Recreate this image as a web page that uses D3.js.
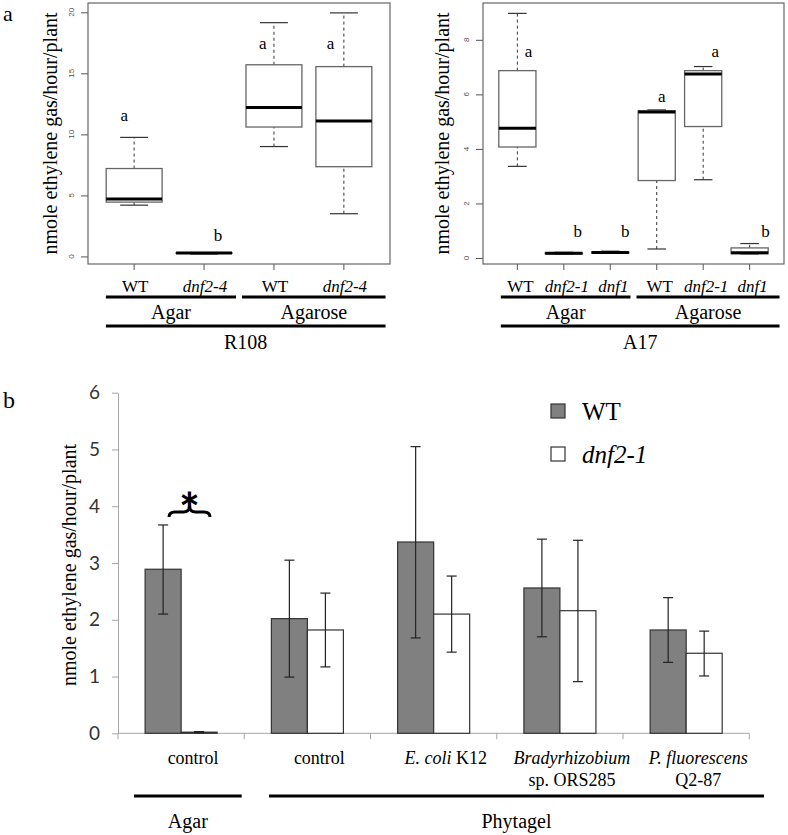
<!DOCTYPE html>
<html><head><meta charset="utf-8">
<script src="https://cdn.jsdelivr.net/npm/d3@7"></script>
<style>body{margin:0;background:#fff}svg{display:block}</style>
</head><body>
<script>
// ---------- DATA ----------
// Panel a, R108
const r108Groups = ["WT","dnf2-4","WT","dnf2-4"];
const r108Italic = [false,true,false,true];
const r108Low  = [4.2, 0.2, 9.0, 3.5];
const r108Q1   = [4.45, 0.25, 10.6, 7.35];
const r108Med  = [4.7, 0.28, 12.2, 11.1];
const r108Q3   = [7.2, 0.3, 15.7, 15.55];
const r108High = [9.75, 0.32, 19.15, 19.95];
const r108Letters = ["a","b","a","a"];
const r108LetterY = [11.1, 1.28, 17.0, 17.0];
const r108Ticks = [0,5,10,15,20];
const r108Media = ["Agar","Agarose"];

// Panel a, A17
const a17Groups = ["WT","dnf2-1","dnf1","WT","dnf2-1","dnf1"];
const a17Italic = [false,true,true,false,true,true];
const a17Low  = [3.36, 0.14, 0.17, 0.33, 2.87, 0.15];
const a17Q1   = [4.07, 0.15, 0.18, 2.84, 4.82, 0.16];
const a17Med  = [4.76, 0.17, 0.2, 5.35, 6.75, 0.19];
const a17Q3   = [6.87, 0.19, 0.22, 5.4, 6.87, 0.37];
const a17High = [8.97, 0.21, 0.25, 5.43, 7.02, 0.53];
const a17Letters = ["a","b","b","a","a","b"];
const a17LetterY = [7.37, 0.78, 0.78, 5.72, 7.37, 0.78];
const a17Ticks = [0,2,4,6,8];
const a17Media = ["Agar","Agarose"];

// Panel b
const bCategories = ["Agar control","Phytagel control","E. coli K12","Bradyrhizobium sp. ORS285","P. fluorescens Q2-87"];
const bSeries = ["WT","dnf2-1"];
const wtMean = [2.89, 2.02, 3.37, 2.56, 1.82];
const wtLow  = [2.10, 0.99, 1.68, 1.70, 1.25];
const wtHigh = [3.67, 3.05, 5.05, 3.42, 2.39];
const dnfMean = [0.02, 1.82, 2.10, 2.16, 1.41];
const dnfLow  = [0.01, 1.17, 1.43, 0.91, 1.01];
const dnfHigh = [0.03, 2.47, 2.77, 3.40, 1.80];
const bTicks = [0,1,2,3,4,5,6];
// label lines: [text, italic] parts
const bLabelLines = [
  [[["control",false]]],
  [[["control",false]]],
  [[["E. coli",true],[" K12",false]]],
  [[["Bradyrhizobium",true]],[["sp. ORS285",false]]],
  [[["P. fluorescens",true]],[["Q2-87",false]]]
];

// ---------- DRAW ----------
const W = 788, H = 835;
const SERIF = "'Liberation Serif','Times New Roman',serif";
const SANS = "'Liberation Sans',Arial,sans-serif";
const svg = d3.select("body").append("svg").attr("width", W).attr("height", H)
  .attr("font-family", SERIF);

function boxPanel(opts) {
  const g = svg.append("g");
  const n = opts.groups.length;
  const x = d3.scaleLinear().domain([0.5 - 0.04*n, n + 0.5 + 0.04*n]).range([opts.x0, opts.x1]);
  const y = d3.scaleLinear().domain(opts.yDomain).range([opts.yBot, opts.yTop]);
  const bw = (x(1.8) - x(1)); // 0.8 units
  const idx = d3.range(n);

  // y axis
  const yAxis = d3.axisLeft(y).tickValues(opts.ticks).tickSize(7).tickSizeOuter(0);
  const ga = g.append("g").attr("transform", `translate(${opts.x0},0)`).call(yAxis);
  ga.select(".domain").remove();
  ga.selectAll(".tick line").attr("stroke", "#555");
  ga.selectAll(".tick text").remove();
  g.selectAll(".ytl").data(opts.ticks).join("text")
    .attr("transform", d => `translate(${opts.x0 - 17},${y(d)}) rotate(-90)`)
    .attr("text-anchor", "middle").attr("dy", "0.35em")
    .attr("font-family", SANS).attr("font-size", 8).attr("fill", "#555")
    .text(d => d);

  // x ticks at bottom
  g.selectAll(".xt").data(idx).join("line")
    .attr("x1", i => x(i+1)).attr("x2", i => x(i+1))
    .attr("y1", opts.yBot).attr("y2", opts.yBot + 6).attr("stroke", "#555");

  // whiskers
  const stroke = "#666";
  g.selectAll(".wl").data(idx).join("line")
    .attr("x1", i => x(i+1)).attr("x2", i => x(i+1))
    .attr("y1", i => y(opts.low[i])).attr("y2", i => y(opts.q1[i]))
    .attr("stroke", "#333").attr("stroke-dasharray", "3,3");
  g.selectAll(".wh").data(idx).join("line")
    .attr("x1", i => x(i+1)).attr("x2", i => x(i+1))
    .attr("y1", i => y(opts.q3[i])).attr("y2", i => y(opts.high[i]))
    .attr("stroke", "#333").attr("stroke-dasharray", "3,3");
  // staples
  ["low","high"].forEach(k => {
    g.selectAll(".st"+k).data(idx).join("line")
      .attr("x1", i => x(i+1) - bw/4).attr("x2", i => x(i+1) + bw/4)
      .attr("y1", i => y(opts[k][i])).attr("y2", i => y(opts[k][i]))
      .attr("stroke", "#333").attr("stroke-width", 1.2);
  });
  // boxes
  g.selectAll(".bx").data(idx).join("rect")
    .attr("x", i => x(i+1) - bw/2).attr("width", bw)
    .attr("y", i => y(opts.q3[i])).attr("height", i => Math.max(0.5, y(opts.q1[i]) - y(opts.q3[i])))
    .attr("fill", "#fff").attr("stroke", stroke).attr("stroke-width", 1.3);
  // medians
  g.selectAll(".md").data(idx).join("line")
    .attr("x1", i => x(i+1) - bw/2).attr("x2", i => x(i+1) + bw/2)
    .attr("y1", i => y(opts.med[i])).attr("y2", i => y(opts.med[i]))
    .attr("stroke", "#000").attr("stroke-width", 3);
  // frame
  g.append("rect").attr("x", opts.x0).attr("y", opts.yTop)
    .attr("width", opts.x1 - opts.x0).attr("height", opts.yBot - opts.yTop)
    .attr("fill", "none").attr("stroke", "#666").attr("stroke-width", 1.2);

  // letters
  g.selectAll(".lt").data(idx).join("text")
    .attr("x", i => x(i+1 + opts.letterShift[i])).attr("y", i => y(opts.letterY[i]))
    .attr("text-anchor", "middle").attr("font-size", 17)
    .text(i => opts.letters[i]);

  // y title
  g.append("text")
    .attr("transform", `translate(${opts.titleX},${(opts.yTop + opts.yBot)/2}) rotate(-90)`)
    .attr("text-anchor", "middle").attr("dy", "0.35em").attr("font-size", 20)
    .text("nmole ethylene gas/hour/plant");

  // x labels
  g.selectAll(".xl").data(idx).join("text")
    .attr("x", i => x(i+1) + opts.labelShift).attr("y", 292)
    .attr("text-anchor", "middle").attr("font-size", 17)
    .attr("font-style", i => opts.italic[i] ? "italic" : "normal")
    .text(i => opts.groups[i]);

  // media lines
  const half = n/2;
  const segs = [[x(0.5 + 0.04*n*0.6), x(half + 0.5) - 3], [x(half + 0.5) + 3, x(n + 0.5 + 0.04*n*0.6)]];
  segs.forEach((s, k) => {
    g.append("line").attr("x1", s[0]).attr("x2", s[1]).attr("y1", 297).attr("y2", 297)
      .attr("stroke", "#000").attr("stroke-width", 3);
    g.append("text").attr("x", (s[0] + s[1])/2).attr("y", 319).attr("text-anchor", "middle")
      .attr("font-size", 20).text(opts.media[k]);
  });
  g.append("line").attr("x1", segs[0][0]).attr("x2", segs[1][1]).attr("y1", 326).attr("y2", 326)
    .attr("stroke", "#000").attr("stroke-width", 3);
  g.append("text").attr("x", (segs[0][0] + segs[1][1])/2).attr("y", 349).attr("text-anchor", "middle")
    .attr("font-size", 20).text(opts.genotype);
}

boxPanel({
  groups: r108Groups, italic: r108Italic, low: r108Low, q1: r108Q1, med: r108Med, q3: r108Q3, high: r108High,
  letters: r108Letters, letterY: r108LetterY, letterShift: [-0.14, 0.2, -0.16, -0.19],
  ticks: r108Ticks, media: r108Media, genotype: "R108",
  x0: 88, x1: 390, yTop: 3, yBot: 264, yDomain: [-0.62, 20.76], titleX: 50, labelShift: 1
});
boxPanel({
  groups: a17Groups, italic: a17Italic, low: a17Low, q1: a17Q1, med: a17Med, q3: a17Q3, high: a17High,
  letters: a17Letters, letterY: a17LetterY, letterShift: [0.24, 0.3, 0.32, 0.11, 0.26, 0.34],
  ticks: a17Ticks, media: a17Media, genotype: "A17",
  x0: 483, x1: 784, yTop: 3, yBot: 264, yDomain: [-0.22, 9.35], titleX: 442, labelShift: 3
});

svg.append("text").attr("x", 3).attr("y", 21).attr("font-size", 22).text("a");
svg.append("text").attr("x", 3).attr("y", 408).attr("font-size", 24).text("b");

// ---------- Panel b ----------
const gb = svg.append("g");
const xb = d3.scaleBand().domain(bCategories).range([118, 749.3]).paddingInner(0).paddingOuter(0);
const xs = d3.scaleBand().domain(bSeries).range([0, xb.bandwidth()]).paddingInner(0).paddingOuter(0.753);
const yb = d3.scaleLinear().domain([0, 6]).range([733.3, 392.7]);

const yAx = gb.append("g").attr("transform", "translate(118,0)")
  .call(d3.axisLeft(yb).tickValues(bTicks).tickFormat(d3.format("d")).tickSize(6).tickSizeOuter(0).tickPadding(12));
yAx.select(".domain").attr("stroke", "#a6a6a6");
yAx.selectAll(".tick line").attr("stroke", "#a6a6a6");
yAx.selectAll(".tick text").attr("font-family", "Lato, 'Open Sans', sans-serif").attr("font-size", 19).attr("fill", "#333");

const xAx = gb.append("g").attr("transform", `translate(0,${yb(0)})`)
  .call(d3.axisBottom(xb).tickSize(0).tickFormat(""));
xAx.select(".domain").attr("stroke", "#a6a6a6").attr("d", `M118,0H749.3`);
// boundary ticks
const bounds = bCategories.map(c => xb(c)).concat([xb.range()[1]]);
gb.selectAll(".bt").data(bounds).join("line")
  .attr("x1", d => d).attr("x2", d => d).attr("y1", yb(0)).attr("y2", yb(0) + 6)
  .attr("stroke", "#a6a6a6");

const seriesData = [
  {key: "WT", mean: wtMean, low: wtLow, high: wtHigh, fill: "#808080"},
  {key: "dnf2-1", mean: dnfMean, low: dnfLow, high: dnfHigh, fill: "#ffffff"}
];
seriesData.forEach(s => {
  const ids = d3.range(bCategories.length);
  gb.selectAll(".bar" + s.key).data(ids).join("rect")
    .attr("x", i => xb(bCategories[i]) + xs(s.key)).attr("width", xs.bandwidth())
    .attr("y", i => yb(s.mean[i])).attr("height", i => yb(0) - yb(s.mean[i]))
    .attr("fill", s.fill).attr("stroke", "#333").attr("stroke-width", 1.2);
});
seriesData.forEach(s => {
  const ids = d3.range(bCategories.length);
  const cx = i => xb(bCategories[i]) + xs(s.key) + xs.bandwidth()/2;
  gb.selectAll(".ev" + s.key).data(ids).join("line")
    .attr("x1", cx).attr("x2", cx).attr("y1", i => yb(s.low[i])).attr("y2", i => yb(s.high[i]))
    .attr("stroke", "#222").attr("stroke-width", 1.2);
  ["low","high"].forEach(k => {
    gb.selectAll(".ec" + s.key + k).data(ids).join("line")
      .attr("x1", i => cx(i) - 5).attr("x2", i => cx(i) + 5)
      .attr("y1", i => yb(s[k][i])).attr("y2", i => yb(s[k][i]))
      .attr("stroke", "#222").attr("stroke-width", 1.2);
  });
});

// category labels
bCategories.forEach((c, i) => {
  const cxl = xb(c) + xb.bandwidth()/2 + 12;
  bLabelLines[i].forEach((line, li) => {
    const t = gb.append("text").attr("x", cxl).attr("y", 764 + li * 22)
      .attr("text-anchor", "middle").attr("font-size", 18);
    line.forEach(p => t.append("tspan").attr("font-style", p[1] ? "italic" : "normal").text(p[0]));
  });
});

// medium lines
const agarSeg = [134, 241.7], phySeg = [269, 764];
[[agarSeg, "Agar"], [phySeg, "Phytagel"]].forEach(([s, t]) => {
  gb.append("line").attr("x1", s[0]).attr("x2", s[1]).attr("y1", 796).attr("y2", 796)
    .attr("stroke", "#000").attr("stroke-width", 3);
  gb.append("text").attr("x", (s[0] + s[1])/2).attr("y", 828).attr("text-anchor", "middle")
    .attr("font-size", 20).text(t);
});

// y title
gb.append("text").attr("transform", `translate(69,565) rotate(-90)`)
  .attr("text-anchor", "middle").attr("dy", "0.35em").attr("font-size", 20)
  .text("nmole ethylene gas/hour/plant");

// significance brace + asterisk
const bx0 = xb(bCategories[0]) + 51, bx1 = xb(bCategories[0]) + 92, bxm = (bx0 + bx1)/2;
const byEnd = yb(3.81), byMid = yb(3.9), byTip = yb(4.0);
const bp = d3.path();
bp.moveTo(bx0, byEnd);
bp.quadraticCurveTo(bx0, byMid, bx0 + 6, byMid);
bp.lineTo(bxm - 6, byMid);
bp.quadraticCurveTo(bxm, byMid, bxm, byTip);
bp.quadraticCurveTo(bxm, byMid, bxm + 6, byMid);
bp.lineTo(bx1 - 6, byMid);
bp.quadraticCurveTo(bx1, byMid, bx1, byEnd);
gb.append("path").attr("d", bp.toString()).attr("fill", "none").attr("stroke", "#000").attr("stroke-width", 3);
gb.append("text").attr("x", bxm).attr("y", yb(4.0) + 22).attr("text-anchor", "middle")
  .attr("font-family", "Lato, 'DejaVu Sans', sans-serif").attr("font-weight", "900").attr("font-size", 48)
  .text("*");

// legend
const leg = gb.append("g");
seriesData.forEach((s, i) => {
  leg.append("rect").attr("x", 551).attr("y", 404 + i * 43).attr("width", 14).attr("height", 14)
    .attr("fill", s.fill).attr("stroke", "#333").attr("stroke-width", 1.2);
  leg.append("text").attr("x", 582).attr("y", 420 + i * 43).attr("font-size", 25)
    .attr("font-style", i === 1 ? "italic" : "normal").text(s.key);
});
</script>
</body></html>
